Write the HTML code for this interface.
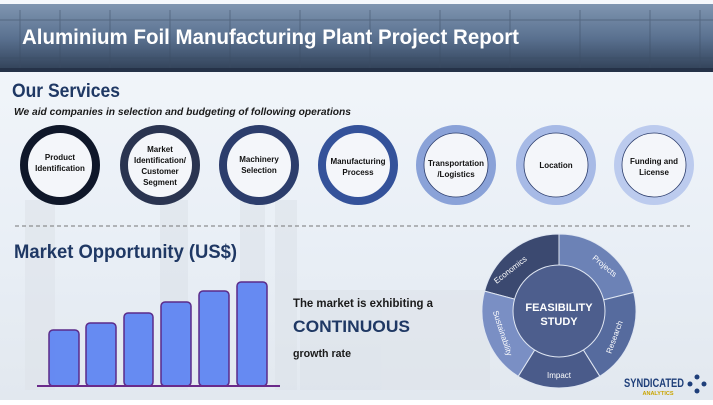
<!DOCTYPE html>
<html><head><meta charset="utf-8"><style>
body{margin:0;width:713px;height:400px;overflow:hidden;font-family:"Liberation Sans",sans-serif;}
</style></head><body>
<svg width="713" height="400" viewBox="0 0 713 400" xmlns="http://www.w3.org/2000/svg" font-family="Liberation Sans, sans-serif">
<defs>
<linearGradient id="bg" x1="0" y1="0" x2="0" y2="1">
<stop offset="0" stop-color="#f4f7fb"/><stop offset="0.6" stop-color="#e9eff6"/><stop offset="1" stop-color="#e2e8ef"/>
</linearGradient>
<linearGradient id="hd" x1="0" y1="0" x2="0" y2="1">
<stop offset="0" stop-color="#7f95b0"/><stop offset="0.5" stop-color="#5a7190"/><stop offset="1" stop-color="#2f3f55"/>
</linearGradient>
</defs>
<rect width="713" height="400" fill="url(#bg)"/>
<g fill="#dde3ea" opacity="0.6">
<rect x="25" y="200" width="30" height="190"/><rect x="160" y="200" width="28" height="190"/>
<rect x="240" y="200" width="25" height="190"/><rect x="275" y="200" width="22" height="190"/>
<rect x="300" y="290" width="190" height="100"/>
</g>
<rect x="0" y="4" width="713" height="68" fill="url(#hd)"/>
<g stroke="#3b4c63" stroke-width="1" opacity="0.5" fill="none">
<path d="M20 10 V70 M60 10 V70 M110 10 V70 M170 10 V70 M230 10 V70 M300 10 V70 M370 10 V70 M440 10 V70 M510 10 V70 M580 10 V70 M650 10 V70 M700 10 V70"/>
<path d="M0 20 H713 M0 58 H713"/>
</g>
<rect x="0" y="68" width="713" height="4" fill="#253248"/>
<text x="22" y="44" font-size="21" font-weight="bold" fill="#fff" textLength="497" lengthAdjust="spacingAndGlyphs">Aluminium Foil Manufacturing Plant Project Report</text>
<text x="12" y="97" font-size="19" font-weight="bold" fill="#1f3864" textLength="108" lengthAdjust="spacingAndGlyphs">Our Services</text>
<text x="14" y="115" font-size="10" font-weight="bold" font-style="italic" fill="#1a1a1a" textLength="337" lengthAdjust="spacingAndGlyphs">We aid companies in selection and budgeting of following operations</text>
<g font-size="8" font-weight="bold" fill="#111" text-anchor="middle">
<circle cx="60" cy="165" r="36" fill="#f4f6fa" stroke="#0f1729" stroke-width="8"/>
<text x="60" y="160">Product</text><text x="60" y="171">Identification</text>
<circle cx="160" cy="165" r="36" fill="#f4f6fa" stroke="#2a3450" stroke-width="8"/>
<text x="160" y="152">Market</text><text x="160" y="163">Identification/</text><text x="160" y="174">Customer</text><text x="160" y="185">Segment</text>
<circle cx="259" cy="165" r="36" fill="#f4f6fa" stroke="#2c3d6c" stroke-width="8"/>
<text x="259" y="162">Machinery</text><text x="259" y="173">Selection</text>
<circle cx="358" cy="165" r="36" fill="#f4f6fa" stroke="#34529a" stroke-width="8"/>
<text x="358" y="164">Manufacturing</text><text x="358" y="175">Process</text>
<circle cx="456" cy="165" r="36" fill="#f4f6fa" stroke="#8aa2d8" stroke-width="8"/>
<circle cx="456" cy="165" r="32" fill="none" stroke="#2c3d6c" stroke-width="0.8"/>
<text x="456" y="166">Transportation</text><text x="456" y="177">/Logistics</text>
<circle cx="556" cy="165" r="36" fill="#f4f6fa" stroke="#a7bae6" stroke-width="8"/>
<circle cx="556" cy="165" r="32" fill="none" stroke="#2c3d6c" stroke-width="0.8"/>
<text x="556" y="168">Location</text>
<circle cx="654" cy="165" r="36" fill="#f4f6fa" stroke="#bccbee" stroke-width="8"/>
<circle cx="654" cy="165" r="32" fill="none" stroke="#2c3d6c" stroke-width="0.8"/>
<text x="654" y="164">Funding and</text><text x="654" y="175">License</text>
</g>
<line x1="15" y1="226" x2="690" y2="226" stroke="#777" stroke-width="1" stroke-dasharray="4,3"/>
<text x="14" y="258" font-size="19" font-weight="bold" fill="#1f3864" textLength="223" lengthAdjust="spacingAndGlyphs">Market Opportunity (US$)</text>
<g fill="#5b82f2" fill-opacity="0.92" stroke="#5a2a8a" stroke-width="1.5">
<rect x="49" y="330" width="30" height="56" rx="4"/>
<rect x="86" y="323" width="30" height="63" rx="4"/>
<rect x="124" y="313" width="29" height="73" rx="4"/>
<rect x="161" y="302" width="30" height="84" rx="4"/>
<rect x="199" y="291" width="30" height="95" rx="4"/>
<rect x="237" y="282" width="30" height="104" rx="4"/>
</g>
<line x1="37" y1="386" x2="280" y2="386" stroke="#6a2a8a" stroke-width="2"/>
<text x="293" y="307" font-size="12" font-weight="bold" fill="#1a1a1a" textLength="140" lengthAdjust="spacingAndGlyphs">The market is exhibiting a</text>
<text x="293" y="332" font-size="17" font-weight="bold" fill="#1f3864" textLength="117" lengthAdjust="spacingAndGlyphs">CONTINUOUS</text>
<text x="293" y="357" font-size="11" font-weight="bold" fill="#1a1a1a" textLength="58" lengthAdjust="spacingAndGlyphs">growth rate</text>
<g stroke="#dfe6f2" stroke-width="1">
<path d="M559 311 L484.6 291.1 A77 77 0 0 1 559 234 Z" fill="#3b4970"/>
<path d="M559 311 L559 234 A77 77 0 0 1 633.7 292.4 Z" fill="#6c82b6"/>
<path d="M559 311 L633.7 292.4 A77 77 0 0 1 599.8 376.3 Z" fill="#566b9e"/>
<path d="M559 311 L599.8 376.3 A77 77 0 0 1 518.2 376.3 Z" fill="#4a5b8a"/>
<path d="M559 311 L518.2 376.3 A77 77 0 0 1 484.6 291.1 Z" fill="#7a8fc4"/>
<circle cx="559" cy="311" r="46" fill="#4d5e8d"/>
</g>
<g fill="#fff" font-size="8" text-anchor="middle">
<text transform="translate(512,272) rotate(-38)">Economics</text>
<text transform="translate(603,268) rotate(40)">Projects</text>
<text transform="translate(617,338) rotate(-70)">Research</text>
<text x="559" y="378">Impact</text>
<text transform="translate(500,334) rotate(72)">Sustainability</text>
<text x="559" y="311" font-size="11" font-weight="bold">FEASIBILITY</text>
<text x="559" y="325" font-size="11" font-weight="bold">STUDY</text>
</g>
<text x="624" y="387" font-size="12" font-weight="bold" fill="#1f3f7a" textLength="60" lengthAdjust="spacingAndGlyphs">SYNDICATED</text>
<text x="658" y="395" font-size="5.5" font-weight="bold" fill="#c9a400" text-anchor="middle">ANALYTICS</text>
<g fill="#1f3f7a"><circle cx="697" cy="377" r="2.5"/><circle cx="704" cy="384" r="2.5"/><circle cx="697" cy="391" r="2.5"/><circle cx="690" cy="384" r="2.5"/></g>
</svg>
</body></html>
